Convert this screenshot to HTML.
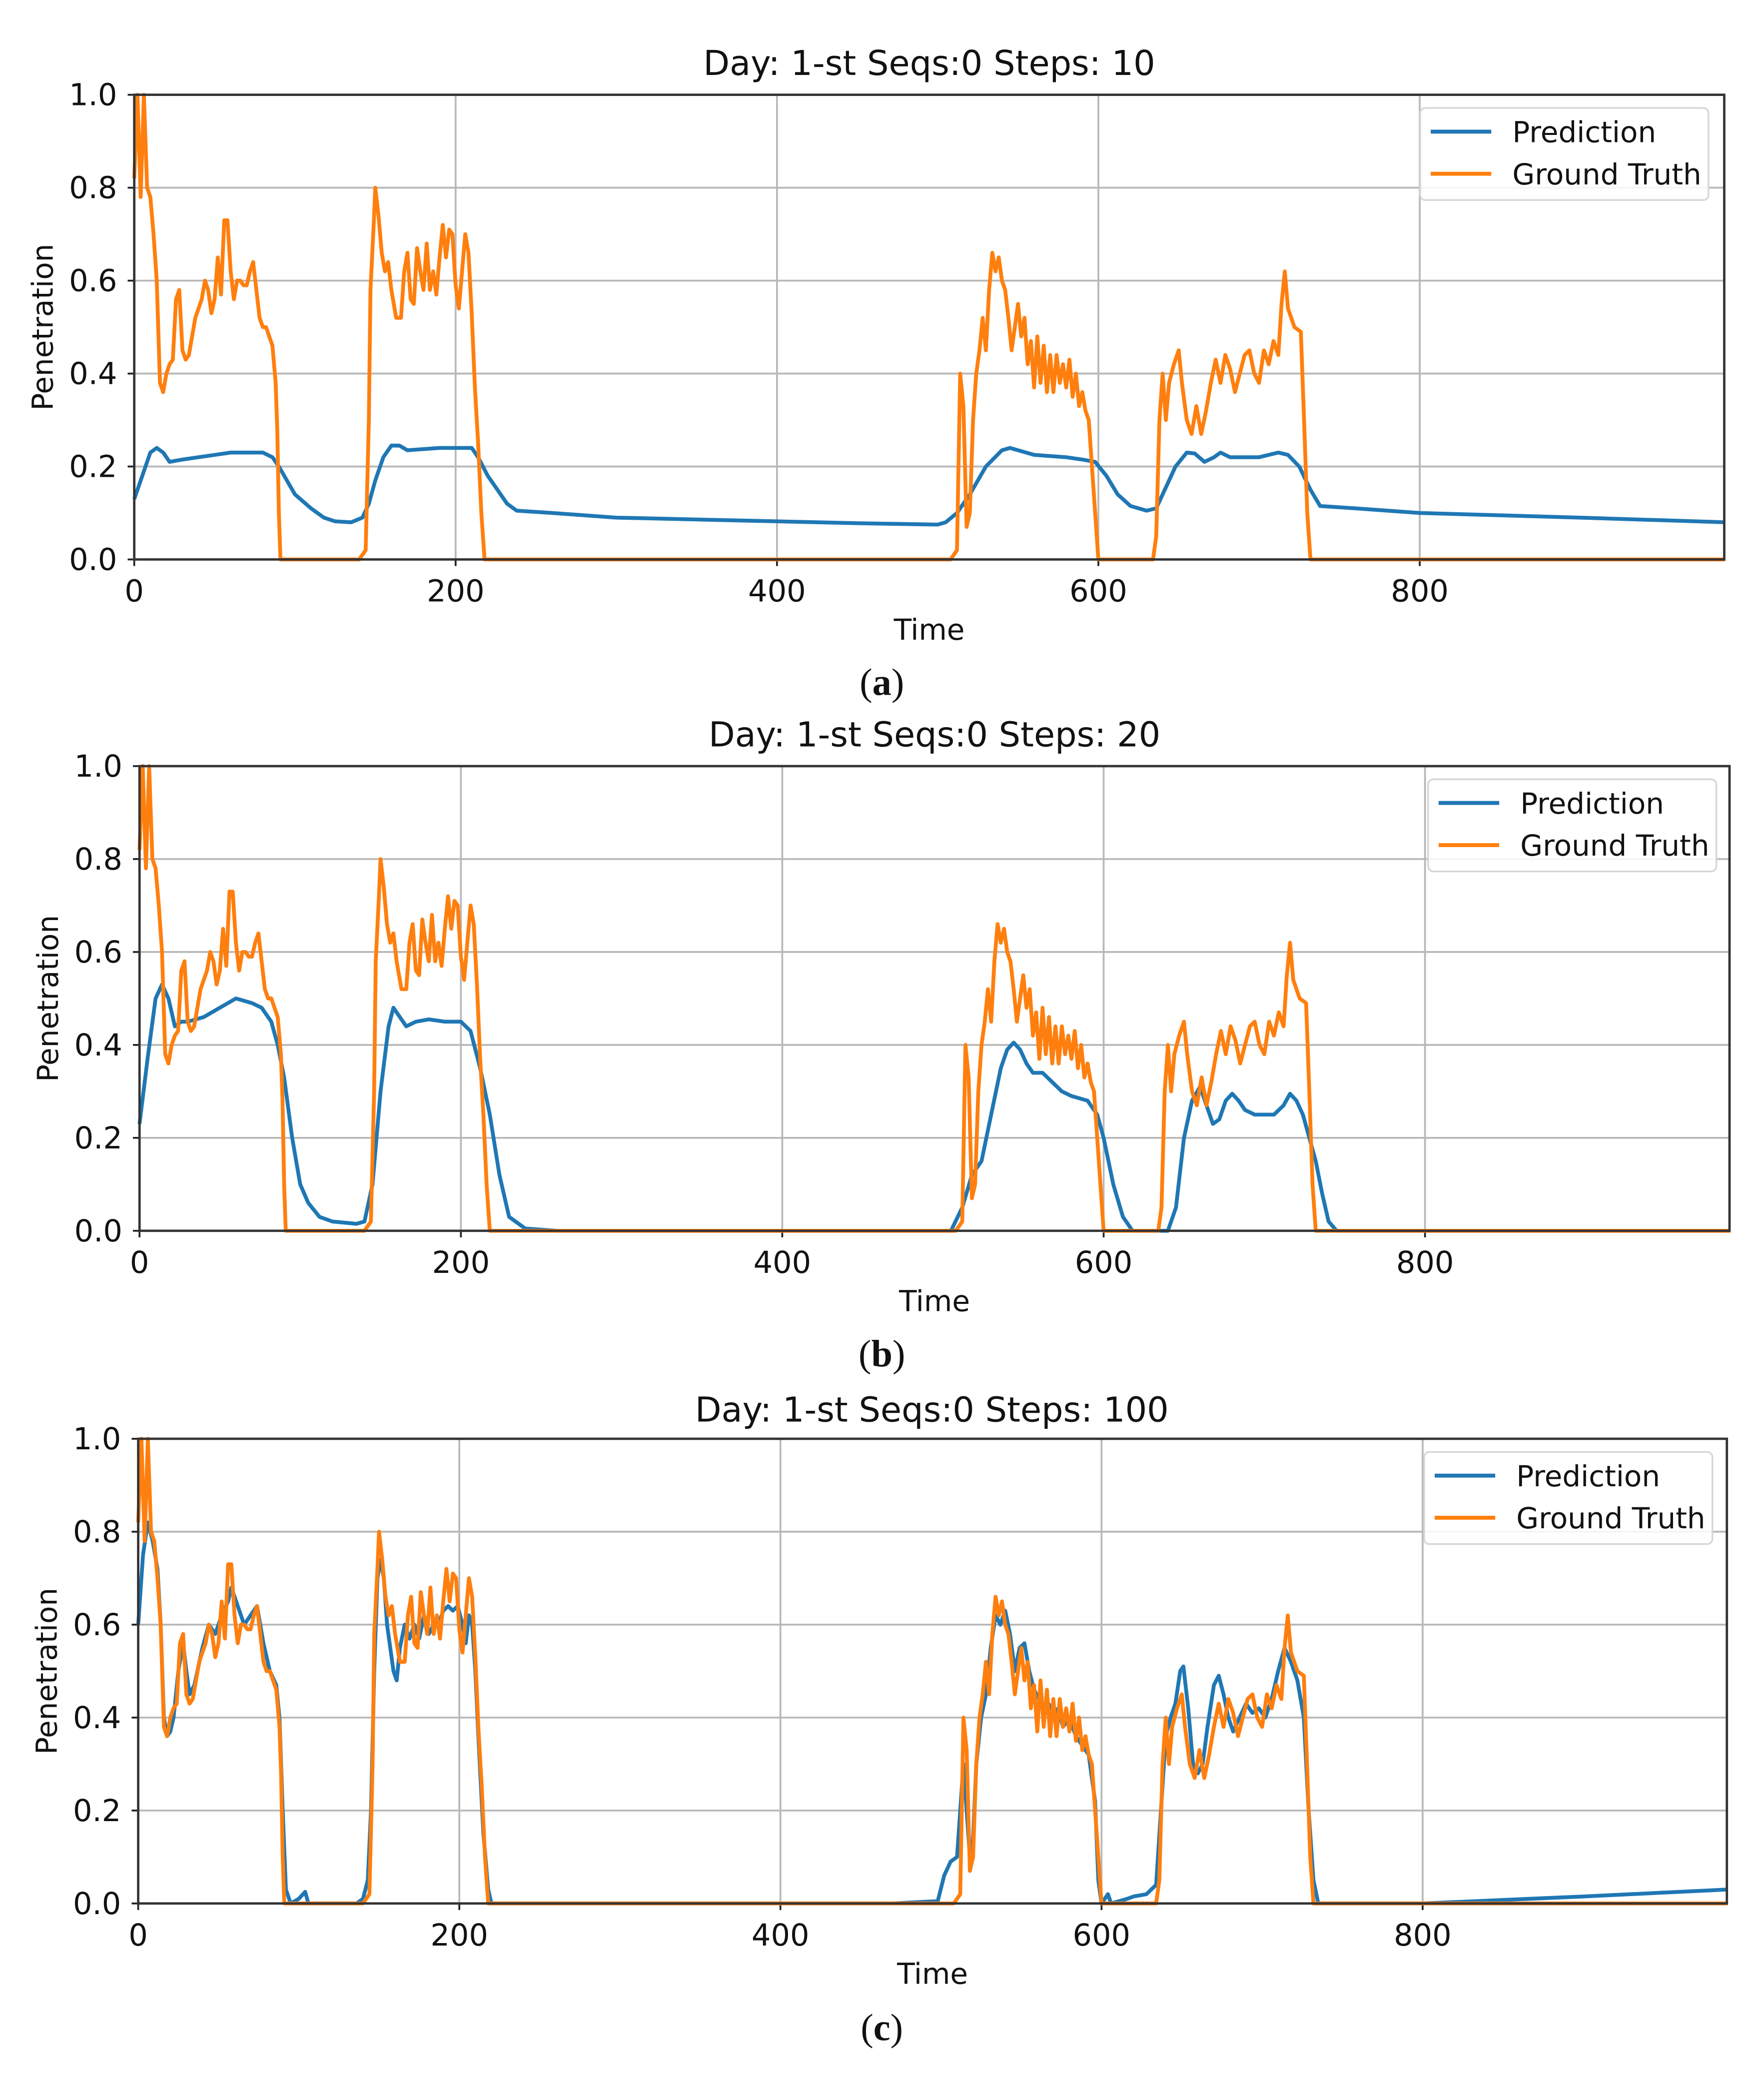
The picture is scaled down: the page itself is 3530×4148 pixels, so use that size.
<!DOCTYPE html>
<html><head><meta charset="utf-8">
<style>
html,body{margin:0;padding:0;background:#fff;}
svg{display:block;}
text{font-family:"DejaVu Sans","Liberation Sans",sans-serif;fill:#111;}
.cap{font-family:"Liberation Serif",serif;}
</style></head>
<body>
<svg id="fig" width="3530" height="4148" viewBox="0 0 1340.2 1574.8" preserveAspectRatio="none" xmlns="http://www.w3.org/2000/svg"></svg>
<script>
// ---- data (time, value) ----
const groundTruthT = [0,2,4,6,8,10,12,14,16,18,20,22,24,26,28,30,32,34,36,38,40,42,44,46,48,50,52,54,56,58,60,62,64,66,68,70,72,74,76,78,80,82,84,86,88,89,90,91,
140,144,146,147,149,150,152,154,156,158,160,163,166,168,170,172,174,176,178,180,182,184,186,188,190,192,194,196,198,200,202,204,206,208,210,212,214,216,218,
508,512,514,516,518,520,522,524,526,528,530,532,534,536,538,540,542,544,546,548,550,552,554,556,558,560,562,564,566,568,570,572,574,576,578,580,582,584,586,588,590,592,594,596,598,600,
634,636,638,640,642,644,647,650,652,655,658,661,664,667,670,673,676,679,682,685,688,691,694,697,700,703,706,709,712,714,716,718,720,722,726,728,730,732,990];
const groundTruthV = [0.82,1.0,0.78,1.0,0.8,0.78,0.7,0.6,0.38,0.36,0.4,0.42,0.43,0.56,0.58,0.45,0.43,0.44,0.48,0.52,0.54,0.56,0.6,0.58,0.53,0.56,0.65,0.57,0.73,0.73,0.62,0.56,0.6,0.6,0.59,0.59,0.62,0.64,0.58,0.52,0.5,0.5,0.48,0.46,0.38,0.28,0.1,0.0,
0.0,0.02,0.3,0.58,0.72,0.8,0.74,0.66,0.62,0.64,0.58,0.52,0.52,0.62,0.66,0.56,0.55,0.67,0.62,0.58,0.68,0.58,0.62,0.57,0.65,0.72,0.65,0.71,0.7,0.59,0.54,0.62,0.7,0.66,0.53,0.37,0.25,0.1,0.0,
0.0,0.02,0.4,0.33,0.07,0.1,0.3,0.4,0.45,0.52,0.45,0.58,0.66,0.62,0.65,0.6,0.58,0.52,0.45,0.5,0.55,0.48,0.52,0.42,0.47,0.37,0.48,0.38,0.46,0.36,0.44,0.36,0.44,0.38,0.42,0.37,0.43,0.35,0.4,0.33,0.36,0.32,0.3,0.2,0.1,0.0,
0.0,0.05,0.3,0.4,0.3,0.38,0.42,0.45,0.38,0.3,0.27,0.33,0.27,0.32,0.38,0.43,0.38,0.44,0.41,0.36,0.4,0.44,0.45,0.4,0.38,0.45,0.42,0.47,0.44,0.55,0.62,0.54,0.52,0.5,0.49,0.3,0.1,0.0,0.0];

const predAT = [0,5,10,14,18,22,30,50,60,80,86,90,95,100,110,118,125,135,142,146,150,155,160,165,170,190,210,214,220,226,232,238,260,300,400,450,500,505,512,520,530,540,545,550,560,580,590,598,605,612,620,630,636,640,648,655,660,666,672,676,682,700,712,718,725,732,738,760,800,900,990];
const predAV = [0.13,0.18,0.23,0.24,0.23,0.21,0.215,0.225,0.23,0.23,0.22,0.2,0.17,0.14,0.11,0.09,0.082,0.08,0.09,0.12,0.17,0.22,0.245,0.245,0.235,0.24,0.24,0.22,0.18,0.15,0.12,0.105,0.1,0.09,0.082,0.078,0.075,0.08,0.1,0.14,0.2,0.235,0.24,0.235,0.225,0.22,0.215,0.21,0.18,0.14,0.115,0.105,0.11,0.14,0.2,0.23,0.228,0.21,0.22,0.23,0.22,0.22,0.23,0.225,0.2,0.15,0.115,0.11,0.1,0.09,0.08];

const predBT = [0,5,10,14,18,22,26,30,40,50,60,70,76,82,86,90,95,100,105,112,120,135,140,145,150,155,158,162,166,172,180,190,200,206,212,218,224,230,240,260,505,512,518,524,530,536,540,544,548,552,556,562,568,574,580,590,596,600,606,612,618,640,645,650,655,660,664,668,672,676,680,684,688,694,700,706,712,716,720,724,728,732,736,740,745,990];
const predBV = [0.23,0.37,0.5,0.53,0.5,0.44,0.45,0.45,0.46,0.48,0.5,0.49,0.48,0.45,0.4,0.33,0.2,0.1,0.06,0.03,0.02,0.015,0.02,0.1,0.3,0.44,0.48,0.46,0.44,0.45,0.455,0.45,0.45,0.43,0.35,0.25,0.12,0.03,0.005,0,0,0.05,0.12,0.15,0.25,0.35,0.39,0.405,0.39,0.36,0.34,0.34,0.32,0.3,0.29,0.28,0.25,0.2,0.1,0.03,0,0,0.05,0.2,0.28,0.31,0.27,0.23,0.24,0.28,0.295,0.28,0.26,0.25,0.25,0.25,0.27,0.295,0.28,0.25,0.2,0.15,0.08,0.02,0,0];

const predCT = [0,3,6,9,12,14,16,18,20,22,25,28,30,32,35,40,44,48,52,56,58,62,66,70,74,78,82,86,88,90,92,95,100,104,106,136,140,143,145,147,149,151,153,155,157,159,161,163,166,169,172,175,178,181,184,187,190,193,196,199,202,204,206,208,210,212,215,218,220,470,498,502,506,510,512,514,516,518,520,522,525,528,531,534,537,540,543,546,549,552,555,558,561,564,567,570,573,576,580,584,588,592,596,598,600,604,606,616,620,628,634,637,640,643,646,649,651,654,657,660,663,666,670,673,676,679,682,686,690,694,698,702,706,710,714,718,722,726,729,732,735,800,820,900,990];
const predCV = [0.6,0.75,0.82,0.78,0.72,0.6,0.4,0.36,0.37,0.4,0.5,0.56,0.5,0.45,0.47,0.55,0.6,0.58,0.62,0.65,0.68,0.64,0.6,0.62,0.64,0.56,0.5,0.47,0.4,0.2,0.03,0.0,0.01,0.025,0,0,0.01,0.05,0.2,0.5,0.7,0.74,0.7,0.6,0.55,0.5,0.48,0.55,0.6,0.57,0.6,0.57,0.62,0.58,0.6,0.6,0.63,0.64,0.63,0.64,0.6,0.56,0.62,0.6,0.5,0.35,0.15,0.03,0,0,0.005,0.06,0.09,0.1,0.2,0.3,0.2,0.1,0.14,0.3,0.4,0.45,0.55,0.62,0.6,0.63,0.58,0.5,0.55,0.56,0.5,0.46,0.44,0.42,0.43,0.4,0.42,0.38,0.4,0.36,0.34,0.32,0.22,0.05,0,0.02,0,0.01,0.015,0.02,0.04,0.2,0.36,0.4,0.43,0.5,0.51,0.42,0.3,0.28,0.3,0.38,0.47,0.49,0.45,0.4,0.37,0.4,0.43,0.41,0.42,0.4,0.44,0.5,0.55,0.52,0.48,0.4,0.2,0.05,0,0,0.003,0.015,0.03];

const yTicks = [0,0.2,0.4,0.6,0.8,1.0];
const yTickLabels = ["0.0","0.2","0.4","0.6","0.8","1.0"];
const xTicks = [0,200,400,600,800];
const xTickLabels = ["0","200","400","600","800"];

const panels = [
 {id:'a', l:102,r:1310,t:72,b:425, title:'Day: 1-st Seqs:0 Steps: 10', tx:706, ty:57, xly:486, cy:528, lx:1079, ly:82, pT:predAT, pV:predAV},
 {id:'b', l:106,r:1314,t:582,b:935, title:'Day: 1-st Seqs:0 Steps: 20', tx:710, ty:567, xly:996, cy:1038, lx:1085, ly:592, pT:predBT, pV:predBV},
 {id:'c', l:105,r:1312,t:1093,b:1446, title:'Day: 1-st Seqs:0 Steps: 100', tx:708, ty:1080, xly:1507, cy:1550, lx:1082, ly:1103, pT:predCT, pV:predCV}
];
const XMAX = 989.5;
const NS='http://www.w3.org/2000/svg';
const svg=document.getElementById('fig');
function mk(tag,attrs,parent,txt){const e=document.createElementNS(NS,tag);for(const k in attrs)e.setAttribute(k,attrs[k]);if(txt!==undefined)e.textContent=txt;(parent||svg).appendChild(e);return e;}

panels.forEach(p=>{
  const g=mk('g',{});
  
  
  const xs=t=>p.l+(p.r-p.l)*t/XMAX;
  const ys=v=>p.b-(p.b-p.t)*v;
  yTicks.forEach((v,i)=>{
    const gl=mk('line',{x1:p.l,x2:p.r,y1:ys(v),y2:ys(v),stroke:'#b8b8b8','stroke-width':1.4},g);
    
    
    mk('line',{x1:p.l-5,x2:p.l,y1:ys(v),y2:ys(v),stroke:'#222','stroke-width':1.4},g);
    const tl=mk('text',{x:p.l-13,y:ys(v)+8,'text-anchor':'end','font-size':23},g,yTickLabels[i]);
    
    
  });
  xTicks.forEach((t,i)=>{
    const gl=mk('line',{x1:xs(t),x2:xs(t),y1:p.t,y2:p.b,stroke:'#b8b8b8','stroke-width':1.4},g);
    
    
    mk('line',{x1:xs(t),x2:xs(t),y1:p.b,y2:p.b+5,stroke:'#222','stroke-width':1.4},g);
    const tl=mk('text',{x:xs(t),y:p.b+32,'text-anchor':'middle','font-size':23},g,xTickLabels[i]);
    
    
  });
  function line(T,V,color,name){
    let d='';T.forEach((t,i)=>{d+=(i?'L':'M')+xs(t).toFixed(2)+' '+ys(V[i]).toFixed(2);});
    const pl=mk('path',{d:d,fill:'none',stroke:color,'stroke-width':2.9,'stroke-linejoin':'round'},g);
    
    
  }
  line(p.pT,p.pV,'#1f77b4','prediction-line');
  line(groundTruthT,groundTruthV,'#ff7f0e','ground-truth-line');
  const fr=mk('rect',{x:p.l,y:p.t,width:p.r-p.l,height:p.b-p.t,fill:'none',stroke:'#333','stroke-width':1.8},g);
  
  
  const ti=mk('text',{x:p.tx,y:p.ty,'text-anchor':'middle','font-size':26},g,p.title);
  
  
  const xl=mk('text',{x:(p.l+p.r)/2,y:p.xly,'text-anchor':'middle','font-size':22},g,'Time');
  
  
  const cy=(p.t+p.b)/2;
  const yl=mk('text',{x:0,y:0,'text-anchor':'middle','font-size':22,transform:'translate('+(p.l-62)+','+cy+') rotate(-90)'},g,'Penetration');
  
  
  const cp=mk('text',{x:670,y:p.cy,'text-anchor':'middle','font-size':29,'class':'cap'},g);
  
  
  mk('tspan',{},cp,'(');mk('tspan',{'font-weight':'bold'},cp,p.id);mk('tspan',{},cp,')');
  const lg=mk('g',{},g);
  
  
  mk('rect',{x:p.lx,y:p.ly,width:219,height:70,rx:4,fill:'#fff','fill-opacity':0.85,stroke:'#d6d6d6','stroke-width':1.3},lg);
  const e1=mk('g',{},lg);
  
  
  mk('line',{x1:p.lx+8,x2:p.lx+54,y1:p.ly+18,y2:p.ly+18,stroke:'#1f77b4','stroke-width':3},e1);
  mk('text',{x:p.lx+70,y:p.ly+26,'font-size':22},e1,'Prediction');
  const e2=mk('g',{},lg);
  
  
  mk('line',{x1:p.lx+8,x2:p.lx+54,y1:p.ly+50,y2:p.ly+50,stroke:'#ff7f0e','stroke-width':3},e2);
  mk('text',{x:p.lx+70,y:p.ly+58,'font-size':22},e2,'Ground Truth');
});
</script>
</body></html>
